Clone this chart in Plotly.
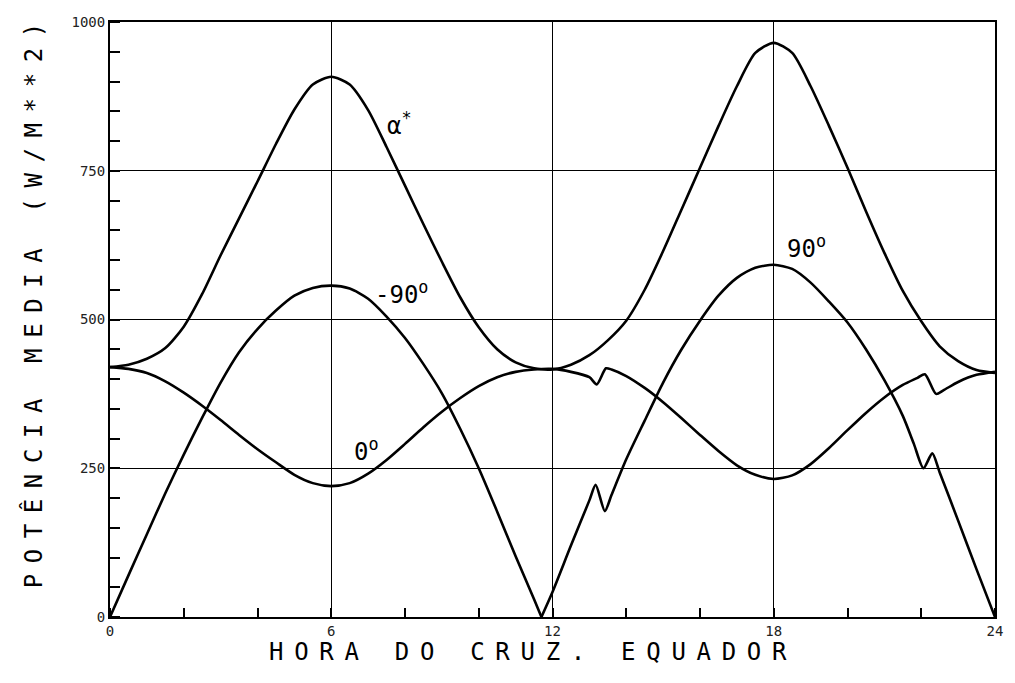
import plotly.graph_objects as go

# ---- data ----
alpha_x = [0, 0.5, 1, 1.5, 2, 2.5, 3, 3.5, 4, 4.5, 5, 5.5, 6, 6.5, 7, 7.5, 8, 8.5, 9, 9.5, 10, 10.5, 11, 11.5, 12,
           12.5, 13, 13.5, 14, 14.5, 15, 15.5, 16, 16.5, 17, 17.5, 18, 18.5, 19, 19.5, 20, 20.5, 21, 21.5, 22, 22.5, 23, 23.5, 24]
alpha_y = [420, 424, 434, 452, 488, 543, 608, 670, 732, 795, 853, 895, 908, 895, 852, 790, 725, 660, 597, 537, 487, 450, 428, 418, 416,
           424, 440, 465, 498, 550, 615, 685, 755, 825, 892, 948, 965, 948, 892, 825, 755, 682, 612, 548, 497, 455, 430, 415, 410]

zero_x = [0, 0.5, 1, 1.5, 2, 2.5, 3, 3.5, 4, 4.5, 5, 5.5, 6, 6.5, 7, 7.5, 8, 8.5, 9, 9.5, 10, 10.5, 11, 11.5, 12,
          12.5, 13.0, 13.2, 13.45, 13.6, 14, 14.5, 15, 15.5, 16, 16.5, 17, 17.5, 18, 18.5, 19, 19.5, 20, 20.5, 21, 21.5,
          21.9, 22.1, 22.4, 22.6, 23, 23.5, 24]
zero_y = [420, 417, 410, 396, 377, 355, 331, 306, 282, 260, 239, 225, 220, 225, 241, 264, 291, 319, 345, 368, 388, 403, 412, 416, 417,
          412, 403, 391, 418, 416, 405, 385, 361, 334, 306, 279, 255, 239, 232, 238, 257, 284, 314, 343, 369, 390,
          402, 408, 375, 381, 395, 407, 412]

m90_x = [0, 0.5, 1, 1.5, 2, 2.5, 3, 3.5, 4, 4.5, 5, 5.5, 6, 6.5, 7, 7.5, 8, 8.5, 9, 9.5, 10, 10.5, 11, 11.5, 11.7]
m90_y = [0, 70, 139, 208, 273, 335, 394, 445, 484, 515, 540, 553, 557, 552, 535, 505, 469, 425, 376, 316, 250, 177, 102, 30, 0]

p90_x = [11.7, 12, 12.5, 13.0, 13.17, 13.42, 13.6, 14, 14.5, 15, 15.5, 16, 16.5, 17, 17.5, 18, 18.5, 19, 19.5, 20, 20.5, 21, 21.5,
         21.8, 22.06, 22.3, 22.5, 23, 23.5, 24]
p90_y = [0, 42, 120, 196, 222, 178, 205, 265, 330, 394, 450, 498, 540, 570, 587, 592, 585, 562, 530, 495, 450, 398, 338,
         291, 250, 275, 243, 162, 80, 0]

x_ticks = [0, 6, 12, 18, 24]
y_ticks = [0, 250, 500, 750, 1000]

labels = ["α<sup>*</sup>", "-90<sup>o</sup>", "0<sup>o</sup>", "90<sup>o</sup>"]
label_x = [7.85, 7.9, 6.95, 18.9]
label_y = [828, 545, 280, 622]

FONT = "DejaVu Sans Mono"

fig = go.Figure()
for xs, ys in [(alpha_x, alpha_y), (zero_x, zero_y), (m90_x, m90_y), (p90_x, p90_y)]:
    fig.add_trace(go.Scatter(x=xs, y=ys, mode="lines", line=dict(color="black", width=2.6, shape="spline", smoothing=0.7),
                             showlegend=False, hoverinfo="skip"))

for t, lx, ly in zip(labels, label_x, label_y):
    fig.add_annotation(x=lx, y=ly, text=t, showarrow=False, font=dict(family=FONT, size=24, color="black"))

fig.add_annotation(xref="paper", yref="paper", x=0.478, y=-0.058, yanchor="middle",
                   text='<span style="letter-spacing:10.7px">HORA DO CRUZ. EQUADOR</span>', showarrow=False,
                   font=dict(family=FONT, size=24, color="black"))
fig.add_annotation(xref="paper", yref="paper", x=-0.086, y=0.532, xanchor="center", yanchor="middle", textangle=-90,
                   text='<span style="letter-spacing:10.6px">POTÊNCIA MEDIA (W/M**2)</span>', showarrow=False,
                   font=dict(family=FONT, size=24, color="black"))

axis_common = dict(showline=True, linecolor="black", linewidth=2, mirror=True,
                   showgrid=True, gridcolor="black", gridwidth=1.2, zeroline=False,
                   ticks="", tickfont=dict(family=FONT, size=14, color="#222"))
fig.update_xaxes(range=[0, 24], tickvals=x_ticks, ticktext=[str(v) for v in x_ticks], ticklabelstandoff=0,
                 minor=dict(dtick=2, ticks="inside", ticklen=9, tickcolor="black", tickwidth=1.5, showgrid=False),
                 **axis_common)
fig.update_yaxes(range=[0, 1000], tickvals=y_ticks, ticktext=[str(v) for v in y_ticks],
                 minor=dict(dtick=50, ticks="inside", ticklen=10, tickcolor="black", tickwidth=1.5, showgrid=False),
                 **axis_common)

fig.update_layout(width=1015, height=683, margin=dict(l=110, r=18, t=22, b=66),
                  plot_bgcolor="white", paper_bgcolor="white", showlegend=False)
fig.write_html("out.html", config={"displayModeBar": False},
               post_script="document.body.style.margin='0';document.body.style.overflow='hidden';")
